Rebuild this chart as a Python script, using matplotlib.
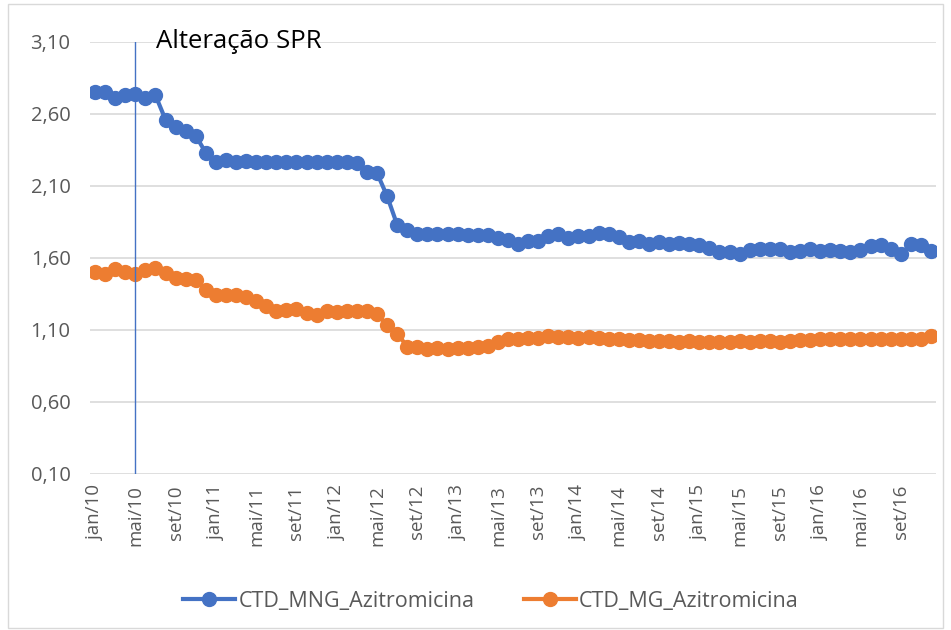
import matplotlib
matplotlib.use("Agg")
import matplotlib.pyplot as plt
from matplotlib.patches import Rectangle

months = ["jan", "fev", "mar", "abr", "mai", "jun", "jul", "ago", "set", "out", "nov", "dez"]
years = ["10", "11", "12", "13", "14", "15", "16"]
categories = [f"{m}/{y}" for y in years for m in months]

mng = [2.75, 2.755, 2.71, 2.73, 2.74, 2.71, 2.73, 2.56, 2.51, 2.48, 2.45, 2.33, 2.27, 2.28, 2.27,
       2.275, 2.27, 2.265, 2.265, 2.265, 2.265, 2.265, 2.265, 2.265, 2.265, 2.265, 2.26, 2.20, 2.19, 2.03, 1.83,
       1.795, 1.77, 1.77, 1.765, 1.765, 1.765, 1.76, 1.76, 1.76, 1.74, 1.725, 1.70, 1.72, 1.72, 1.75,
       1.765, 1.74, 1.75, 1.75, 1.775, 1.765, 1.745, 1.71, 1.72, 1.695, 1.71, 1.70, 1.705, 1.70, 1.69,
       1.67, 1.645, 1.64, 1.625, 1.655, 1.665, 1.665, 1.66, 1.64, 1.65, 1.66, 1.65, 1.655, 1.65, 1.64,
       1.655, 1.685, 1.69, 1.66, 1.625, 1.695, 1.69, 1.65]

mg = [1.505, 1.49, 1.525, 1.505, 1.49, 1.515, 1.53, 1.495, 1.46, 1.455, 1.45, 1.38, 1.34, 1.345, 1.34,
      1.33, 1.30, 1.27, 1.23, 1.24, 1.245, 1.22, 1.205, 1.235, 1.225, 1.235, 1.23, 1.23, 1.21, 1.135, 1.075,
      0.985, 0.98, 0.97, 0.975, 0.97, 0.975, 0.975, 0.98, 0.99, 1.02, 1.04, 1.04, 1.045, 1.045, 1.055,
      1.05, 1.05, 1.045, 1.05, 1.045, 1.04, 1.035, 1.03, 1.03, 1.025,
      1.025, 1.025, 1.02, 1.025, 1.02, 1.015, 1.02, 1.02, 1.025, 1.02,
      1.025, 1.025, 1.02, 1.025, 1.03, 1.03, 1.035, 1.035, 1.04, 1.04,
      1.035, 1.04, 1.04, 1.035, 1.04, 1.035, 1.04, 1.055]

series_names = ["CTD_MNG_Azitromicina", "CTD_MG_Azitromicina"]
y_ticks = [0.10, 0.60, 1.10, 1.60, 2.10, 2.60, 3.10]
event_label = "Alteração SPR"
event_index = categories.index("mai/10")

blue = "#4472C4"
orange = "#ED7D31"
txt = "#595959"

plt.rcParams['font.family'] = ['Open Sans', 'DejaVu Sans']

fig = plt.figure(figsize=(9.51, 6.30), dpi=100)
ax = fig.add_axes([90/951, 1-474/630, (936-90)/951, (474-42)/630])

x = list(range(len(categories)))
ax.plot(x, mng, color=blue, lw=3, marker='o', ms=10, label=series_names[0], zorder=3)
ax.plot(x, mg, color=orange, lw=3, marker='o', ms=10, label=series_names[1], zorder=3)

ax.set_xlim(-0.5, len(categories) - 0.5)
ax.set_ylim(y_ticks[0], y_ticks[-1])
ax.set_yticks(y_ticks)
ax.set_yticklabels([f"{v:.2f}".replace('.', ',') for v in y_ticks], fontsize=14.5, color=txt)
tick_pos = x[::4]
ax.set_xticks(tick_pos)
ax.set_xticklabels([categories[i] for i in tick_pos], rotation=90, fontsize=13.5, color=txt)
ax.tick_params(axis='y', length=0, pad=14)
ax.tick_params(axis='x', length=0, pad=8)
ax.grid(axis='y', color='#D9D9D9', lw=1.2, zorder=0)
for s in ax.spines.values():
    s.set_visible(False)

ax.axvline(event_index, color=blue, lw=1, zorder=4)
ax.text(event_index + 2.1, 3.10, event_label, fontsize=18.5, color='black', va='center', ha='left')

fig.legend(loc='center', bbox_to_anchor=(491/951, 1-601/630), ncol=2, frameon=False,
           fontsize=15.5, handlelength=2.4, columnspacing=2.3, handletextpad=0.15,
           labelcolor=txt)

fig.patches.append(Rectangle((8/951, 2/630), (943-8)/951, (626-2)/630, transform=fig.transFigure,
                             fill=False, edgecolor='#D9D9D9', lw=1))

fig.savefig("out.png", dpi=100)
